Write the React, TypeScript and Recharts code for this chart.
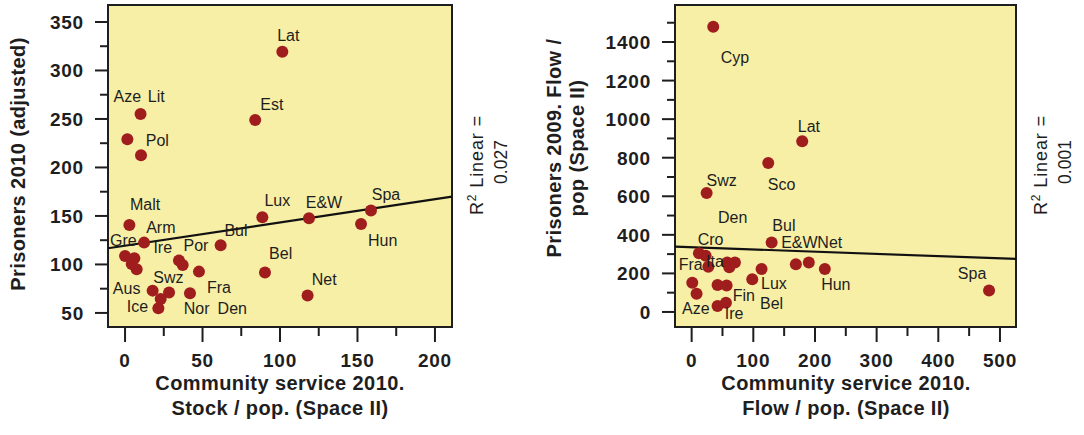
import React from 'react';
import {
  ScatterChart,
  Scatter,
  XAxis,
  YAxis,
  ReferenceArea,
  ReferenceLine,
} from 'recharts';

// ---- Panel 1: community service stock vs. prisoners 2010 ----
const stockNames = [
  'Lat', 'Lit', 'Est', 'Aze', 'Pol', 'Malt', 'Arm', 'Gre', 'Ire', '', '', 'Por', 'Den',
  'Bul', 'Fra', 'Lux', 'E&W', 'Spa', 'Hun', 'Bel', 'Net', 'Aus', 'Swz', '', 'Ice', 'Nor',
];
const stockX = [
  101.5, 10, 84, 1.5, 10.3, 2.8, 12.3, 0, 6, 4.3, 7.5, 34.8, 37.2,
  61.7, 47.7, 88.6, 118.7, 158.7, 152.3, 90.3, 117.8, 17.8, 28.4, 23, 21.5, 41.9,
];
const stockY = [
  319.4, 255, 249, 229, 212.6, 140.7, 122.5, 108.8, 106.4, 100.5, 95, 104, 99.5,
  119.8, 92.6, 148.6, 147.6, 155.5, 141.8, 91.6, 67.9, 73, 71, 64.4, 54.8, 70.3,
];
const stockFit = [
  { x: -11, y: 116.7 },
  { x: 211, y: 169.9 },
];
const stockR2 = '0.027';
const stockXMajor = [0, 50, 100, 150, 200];
const stockXMinor = [25, 75, 125, 175];
const stockYMajor = [50, 100, 150, 200, 250, 300, 350];
const stockYMinor = [75, 125, 175, 225, 275, 325];

// ---- Panel 2: community service flow vs. prisoners 2009 flow ----
const flowNames = [
  'Cyp', 'Lat', 'Sco', 'Swz', 'Bul', 'Cro', 'Den', 'Ita', '', '', '', 'Bel',
  'E&W', 'Net', 'Hun', 'Spa', 'Fra', 'Aze', '', 'Fin', 'Lux', 'Ire', '',
];
const flowX = [
  35, 179.3, 124.2, 24.3, 129.7, 11.8, 22.7, 27, 57.7, 70.2, 61, 113.4,
  169, 190, 216, 482.3, 1, 8, 42, 56.7, 98.3, 42, 55.6,
];
const flowY = [
  1479, 885, 772, 617, 360, 305, 291, 235, 256, 256, 232, 223,
  248, 256, 223, 111, 152, 94, 140, 137, 170, 31, 48,
];
const flowFit = [
  { x: -27, y: 339 },
  { x: 526, y: 275 },
];
const flowR2 = '0.001';
const flowXMajor = [0, 100, 200, 300, 400, 500];
const flowXMinor = [50, 150, 250, 350, 450];
const flowYMajor = [0, 200, 400, 600, 800, 1000, 1200, 1400];
const flowYMinor = [100, 300, 500, 700, 900, 1100, 1300, 1500];

// Label placement next to each marker (pixel offsets from the marker centre)
const stockLabelDx = [
  6, 15.7, 16.7, 0, 16.3, 15.7, 16.7, -1.7, 28.4, 0, 0, 17, 49.6,
  15.3, 20, 15, 15, 15, 21.7, 15.7, 16.6, -26, -0.7, 0, -21, 6.7,
];
const stockLabelDy = [
  -16, -17.6, -15.7, -42.6, -14.6, -20.7, -15.4, -15, -10.6, 0, 0, -14.7, 43.3,
  -14.3, 15.6, -16.6, -16, -16.4, 17, -19.4, -15.7, -2.4, -15.4, 0, -1.6, 15,
];
const flowLabelDx = [
  21.7, 6.7, 13.4, 15, 12.3, 11.7, 27, 6.7, 0, 0, 0, 10,
  3.5, 21, 11, -17, -1.6, -0.7, 0, 17.3, 21.7, 16.6, 0,
];
const flowLabelDy = [
  30.7, -14.7, 21.7, -12.3, -16.7, -13.3, -38.7, -5, 0, 0, 0, 35,
  -21.6, -20, 16, -17.4, -17.7, 14.3, 0, 10.3, 4, 7.3, 0,
];

const FONT = "'Liberation Sans', Arial, Helvetica, sans-serif";
const INK = '#1e1e1e';
const PANEL_FILL = '#F8EFA6';
const DOT = '#A01D1D';

const rows = (names: string[], xs: number[], ys: number[]) =>
  xs.map((x, i) => ({ x, y: ys[i], name: names[i], i }));

const stockRows = rows(stockNames, stockX, stockY);
const flowRows = rows(flowNames, flowX, flowY);

const Dot = (props: any) => {
  const { cx, cy } = props;
  if (cx == null || cy == null) return null;
  return <circle cx={cx} cy={cy} r={6} fill={DOT} />;
};

const makeNameLabel = (dx: number[], dy: number[]) => (props: any) => {
  const { cx, cy, payload } = props;
  if (cx == null || cy == null || !payload || !payload.name) return <g />;
  const i = payload.i;
  return (
    <text
      x={cx + dx[i]}
      y={cy + dy[i]}
      textAnchor="middle"
      dominantBaseline="central"
      fontFamily={FONT}
      fontSize={16}
      fill={INK}
    >
      {payload.name}
    </text>
  );
};

const makeYTick = (majors: number[]) => (props: any) => {
  const { x, y, payload } = props;
  const major = majors.includes(payload.value);
  const len = major ? 13 : 8;
  return (
    <g>
      <line x1={x} x2={x - len} y1={y} y2={y} stroke={INK} strokeWidth={2} />
      {major && (
        <text
          x={x - 24}
          y={y + 7}
          textAnchor="end"
          fontFamily={FONT}
          fontWeight="bold"
          fontSize={19}
          letterSpacing={0.8}
          fill={INK}
        >
          {payload.value}
        </text>
      )}
    </g>
  );
};

const makeXTick = (majors: number[]) => (props: any) => {
  const { x, y, payload } = props;
  const major = majors.includes(payload.value);
  const len = major ? 15 : 9;
  return (
    <g>
      <line x1={x} x2={x} y1={y} y2={y + len} stroke={INK} strokeWidth={2} />
      {major && (
        <text
          x={x}
          y={y + 40}
          textAnchor="middle"
          fontFamily={FONT}
          fontWeight="bold"
          fontSize={19}
          letterSpacing={0.8}
          fill={INK}
        >
          {payload.value}
        </text>
      )}
    </g>
  );
};

type PanelProps = {
  width: number;
  margin: { top: number; right: number; bottom: number; left: number };
  data: { x: number; y: number; name: string; i: number }[];
  xDomain: [number, number];
  yDomain: [number, number];
  xMajor: number[];
  xMinor: number[];
  yMajor: number[];
  yMinor: number[];
  fit: { x: number; y: number }[];
  dx: number[];
  dy: number[];
};

const Panel = (p: PanelProps) => (
  <ScatterChart width={p.width} height={435} margin={p.margin}>
    <XAxis
      type="number"
      dataKey="x"
      domain={p.xDomain}
      allowDataOverflow
      ticks={[...p.xMajor, ...p.xMinor].sort((a, b) => a - b)}
      interval={0}
      tickSize={0}
      tickMargin={0}
      axisLine={false}
      tickLine={false}
      height={30}
      tick={makeXTick(p.xMajor)}
    />
    <YAxis
      type="number"
      dataKey="y"
      domain={p.yDomain}
      allowDataOverflow
      ticks={[...p.yMajor, ...p.yMinor].sort((a, b) => a - b)}
      interval={0}
      tickSize={0}
      tickMargin={0}
      axisLine={false}
      tickLine={false}
      width={60}
      tick={makeYTick(p.yMajor)}
    />
    <ReferenceArea
      x1={p.xDomain[0]}
      x2={p.xDomain[1]}
      y1={p.yDomain[0]}
      y2={p.yDomain[1]}
      fill={PANEL_FILL}
      fillOpacity={1}
      stroke={INK}
      strokeWidth={2}
      ifOverflow="visible"
    />
    <ReferenceLine
      segment={p.fit}
      stroke="#111"
      strokeWidth={2.2}
      ifOverflow="visible"
    />
    <Scatter data={p.data} shape={<Dot />} isAnimationActive={false} />
    <Scatter
      data={p.data}
      shape={makeNameLabel(p.dx, p.dy)}
      isAnimationActive={false}
    />
  </ScatterChart>
);

const titleStyle = {
  fontFamily: FONT,
  fontWeight: 'bold' as const,
  fontSize: 20,
  letterSpacing: 0.4,
  fill: INK,
};
const r2Style = { fontFamily: FONT, fontSize: 18, fill: INK, letterSpacing: 0.9 };
const r2ValueStyle = { fontFamily: FONT, fontSize: 17.5, fill: INK };

export default function App() {
  return (
    <div
      style={{
        position: 'absolute',
        left: 0,
        top: 0,
        width: 1084,
        height: 435,
        background: '#ffffff',
        overflow: 'hidden',
      }}
    >
      <div style={{ position: 'absolute', left: 0, top: 0 }}>
        <Panel
          width={540}
          margin={{ top: 5, right: 88, bottom: 78, left: 48 }}
          data={stockRows}
          xDomain={[-11, 211]}
          yDomain={[35.5, 367.5]}
          xMajor={stockXMajor}
          xMinor={stockXMinor}
          yMajor={stockYMajor}
          yMinor={stockYMinor}
          fit={stockFit}
          dx={stockLabelDx}
          dy={stockLabelDy}
        />
      </div>
      <div style={{ position: 'absolute', left: 540, top: 0 }}>
        <Panel
          width={544}
          margin={{ top: 5, right: 68, bottom: 78, left: 75 }}
          data={flowRows}
          xDomain={[-27, 526]}
          yDomain={[-78, 1592]}
          xMajor={flowXMajor}
          xMinor={flowXMinor}
          yMajor={flowYMajor}
          yMinor={flowYMinor}
          fit={flowFit}
          dx={flowLabelDx}
          dy={flowLabelDy}
        />
      </div>
      <svg
        width={1084}
        height={435}
        style={{ position: 'absolute', left: 0, top: 0, pointerEvents: 'none' }}
      >
        {/* axis titles, panel 1 */}
        <text x={25} y={164} transform="rotate(-90 25 164)" textAnchor="middle" {...titleStyle}>
          Prisoners 2010 (adjusted)
        </text>
        <text x={280} y={390} textAnchor="middle" {...titleStyle}>
          Community service 2010.
        </text>
        <text x={280} y={415} textAnchor="middle" {...titleStyle}>
          Stock / pop. (Space II)
        </text>
        {/* axis titles, panel 2 */}
        <text x={561} y={148} transform="rotate(-90 561 148)" textAnchor="middle" {...titleStyle}>
          Prisoners 2009. Flow /
        </text>
        <text x={584} y={148} transform="rotate(-90 584 148)" textAnchor="middle" {...titleStyle}>
          pop (Space II)
        </text>
        <text x={846} y={390} textAnchor="middle" {...titleStyle}>
          Community service 2010.
        </text>
        <text x={846} y={415} textAnchor="middle" {...titleStyle}>
          Flow / pop. (Space II)
        </text>
        {/* fit statistics */}
        <text x={483} y={165} transform="rotate(-90 483 165)" textAnchor="middle" {...r2Style}>
          R<tspan fontSize={12} dy={-7}>2</tspan>
          <tspan dy={7}> Linear =</tspan>
        </text>
        <text x={507} y={162} transform="rotate(-90 507 162)" textAnchor="middle" {...r2ValueStyle}>
          {stockR2}
        </text>
        <text x={1047} y={165} transform="rotate(-90 1047 165)" textAnchor="middle" {...r2Style}>
          R<tspan fontSize={12} dy={-7}>2</tspan>
          <tspan dy={7}> Linear =</tspan>
        </text>
        <text x={1071} y={162} transform="rotate(-90 1071 162)" textAnchor="middle" {...r2ValueStyle}>
          {flowR2}
        </text>
      </svg>
    </div>
  );
}
